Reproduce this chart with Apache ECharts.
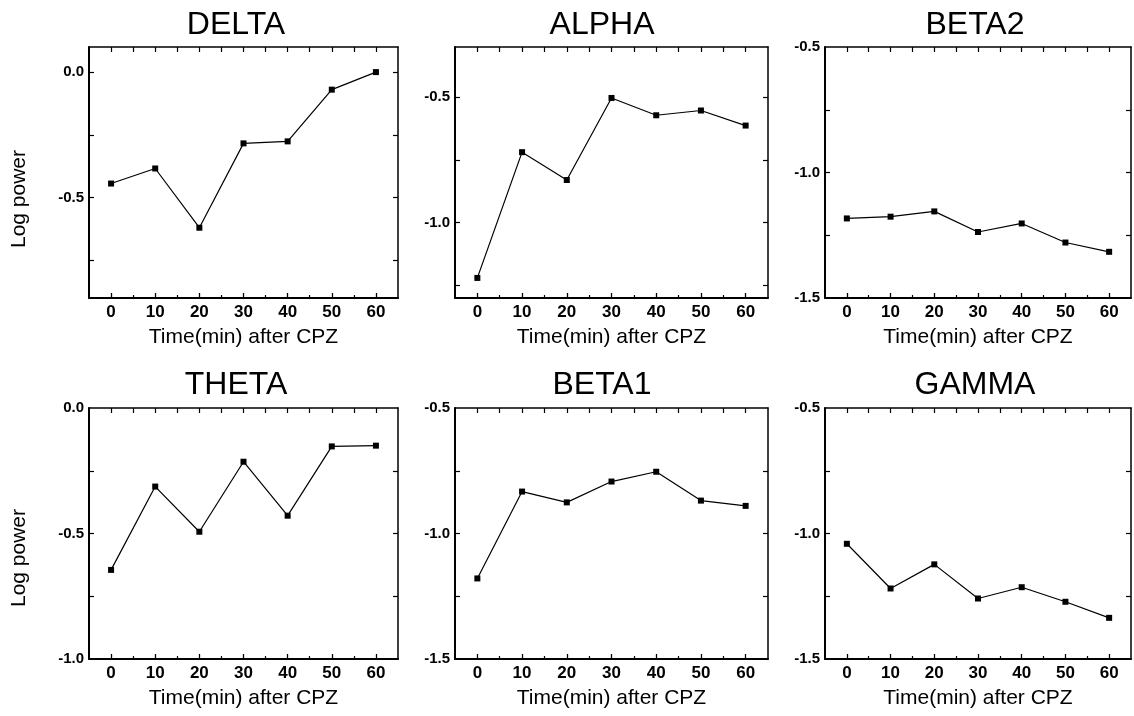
<!DOCTYPE html>
<html>
<head>
<meta charset="utf-8">
<script src="https://cdn.jsdelivr.net/npm/echarts@6/dist/echarts.min.js"></script>
<style>
html,body{margin:0;padding:0;background:#fff;}
#chart{width:1134px;height:716px;}
</style>
</head>
<body>
<div id="chart"></div>
<script>
// ---- data ----
const times = [0, 10, 20, 30, 40, 50, 60];
const panelNames = ['DELTA', 'ALPHA', 'BETA2', 'THETA', 'BETA1', 'GAMMA'];
const delta = [-0.444, -0.384, -0.620, -0.284, -0.276, -0.070, 0.000];
const alpha = [-1.220, -0.719, -0.830, -0.503, -0.572, -0.553, -0.613];
const beta2 = [-1.183, -1.176, -1.155, -1.237, -1.203, -1.279, -1.316];
const theta = [-0.645, -0.313, -0.493, -0.214, -0.429, -0.153, -0.150];
const beta1 = [-1.179, -0.833, -0.876, -0.793, -0.754, -0.869, -0.890];
const gamma = [-1.041, -1.219, -1.123, -1.259, -1.214, -1.272, -1.336];
const yMins = [-0.9, -1.3, -1.5, -1.0, -1.5, -1.5];
const yMaxs = [0.1, -0.3, -0.5, 0.0, -0.5, -0.5];
const deltaYLabels = [0.0, -0.5];
const alphaYLabels = [-0.5, -1.0];
const beta2YLabels = [-0.5, -1.0, -1.5];
const thetaYLabels = [0.0, -0.5, -1.0];
const beta1YLabels = [-0.5, -1.0, -1.5];
const gammaYLabels = [-0.5, -1.0, -1.5];
const deltaYTicks = [0.0, -0.25, -0.5, -0.75];
const alphaYTicks = [-0.5, -0.75, -1.0, -1.25];
const beta2YTicks = [-0.75, -1.0, -1.25];
const thetaYTicks = [-0.25, -0.5, -0.75];
const beta1YTicks = [-0.75, -1.0, -1.25];
const gammaYTicks = [-0.75, -1.0, -1.25];
const xTickLabels = [0, 10, 20, 30, 40, 50, 60];
const xMinorTicks = [5, 15, 25, 35, 45, 55];
const xTopTicks = [0, 5, 10, 15, 20, 25, 30, 35, 40, 45, 50, 55, 60];
const xAxisName = 'Time(min) after CPZ';
const yAxisName = 'Log power';

const panelValues = [delta, alpha, beta2, theta, beta1, gamma];
const panelYLabels = [deltaYLabels, alphaYLabels, beta2YLabels, thetaYLabels, beta1YLabels, gammaYLabels];
const panelYTicks = [deltaYTicks, alphaYTicks, beta2YTicks, thetaYTicks, beta1YTicks, gammaYTicks];

// ---- layout ----
const FONT = '"Liberation Sans", Arial, Helvetica, sans-serif';
const rowTops = [47, 408];
const gridH = 251;
const cols = [{left: 89, width: 309}, {left: 455, width: 313}, {left: 825, width: 306}];
const titleCx = [236, 602, 975];
const titleCy = [25, 385.5];
const yNameCy = [199, 558];

const grids = [], xAxes = [], yAxes = [], series = [], graphics = [];
for (let i = 0; i < 6; i++) {
  const r = Math.floor(i / 3), c = i % 3;
  const g = {left: cols[c].left, top: rowTops[r], width: cols[c].width, height: gridH, containLabel: false};
  grids.push(Object.assign({}, g));
  grids.push(Object.assign({}, g));
  const gMain = 2 * i, gOver = 2 * i + 1;
  // x axes
  xAxes.push({
    gridIndex: gMain, type: 'value', position: 'bottom', min: -5, max: 65,
    axisLine: {show: true, onZero: false, lineStyle: {color: '#000', width: 2}},
    axisTick: {show: true, inside: true, length: 5, customValues: xTickLabels, lineStyle: {color: '#000', width: 1.3}},
    axisLabel: {show: true, customValues: xTickLabels, margin: 6, color: '#000', fontSize: 17, fontWeight: 'bold', fontFamily: FONT},
    splitLine: {show: false},
    name: xAxisName, nameLocation: 'middle', nameGap: 29,
    nameTextStyle: {color: '#000', fontSize: 21, fontFamily: FONT}
  });
  xAxes.push({
    gridIndex: gMain, type: 'value', position: 'top', min: -5, max: 65,
    axisLine: {show: true, onZero: false, lineStyle: {color: '#000', width: 1.5}},
    axisTick: {show: true, inside: true, length: 5, customValues: xTopTicks, lineStyle: {color: '#000', width: 1.2}},
    axisLabel: {show: false}, splitLine: {show: false}
  });
  xAxes.push({
    gridIndex: gOver, type: 'value', position: 'bottom', min: -5, max: 65,
    axisLine: {show: false, onZero: false},
    axisTick: {show: true, inside: true, length: 3, customValues: xMinorTicks, lineStyle: {color: '#000', width: 1.2}},
    axisLabel: {show: false}, splitLine: {show: false}
  });
  // y axes
  yAxes.push({
    gridIndex: gMain, type: 'value', position: 'left', min: yMins[i], max: yMaxs[i],
    axisLine: {show: true, onZero: false, lineStyle: {color: '#000', width: 2}},
    axisTick: {show: true, inside: true, length: 5, customValues: panelYTicks[i], lineStyle: {color: '#000', width: 1.2}},
    axisLabel: {show: true, customValues: panelYLabels[i], margin: 5, color: '#000', fontSize: 15, fontWeight: 'bold', fontFamily: FONT,
      formatter: v => Number(v).toFixed(1)},
    splitLine: {show: false}
  });
  yAxes.push({
    gridIndex: gMain, type: 'value', position: 'right', min: yMins[i], max: yMaxs[i],
    axisLine: {show: true, onZero: false, lineStyle: {color: '#000', width: 1.5}},
    axisTick: {show: true, inside: true, length: 5, customValues: panelYTicks[i], lineStyle: {color: '#000', width: 1.2}},
    axisLabel: {show: false}, splitLine: {show: false}
  });
  yAxes.push({
    gridIndex: gOver, type: 'value', min: yMins[i], max: yMaxs[i], show: false,
    axisLine: {show: false, onZero: false}, splitLine: {show: false}
  });
  series.push({
    name: panelNames[i], type: 'line', xAxisIndex: 3 * i, yAxisIndex: 3 * i,
    data: times.map((t, k) => [t, panelValues[i][k]]),
    symbol: 'rect', symbolSize: 6, showAllSymbol: true,
    lineStyle: {color: '#000', width: 1.2}, itemStyle: {color: '#000'},
    silent: true, animation: false
  });
  graphics.push({
    type: 'text', x: titleCx[c], y: titleCy[r],
    style: {text: panelNames[i], fill: '#000', fontSize: 32, fontFamily: FONT, textAlign: 'center', textVerticalAlign: 'middle'}
  });
}
for (let r = 0; r < 2; r++) {
  graphics.push({
    type: 'text', x: 19, y: yNameCy[r], rotation: Math.PI / 2,
    style: {text: yAxisName, fill: '#000', fontSize: 21, fontFamily: FONT, textAlign: 'center', textVerticalAlign: 'middle'}
  });
}

const chart = echarts.init(document.getElementById('chart'), null, {renderer: 'canvas'});
chart.setOption({
  backgroundColor: '#fff',
  animation: false,
  grid: grids, xAxis: xAxes, yAxis: yAxes, series: series, graphic: graphics
});
</script>
</body>
</html>
